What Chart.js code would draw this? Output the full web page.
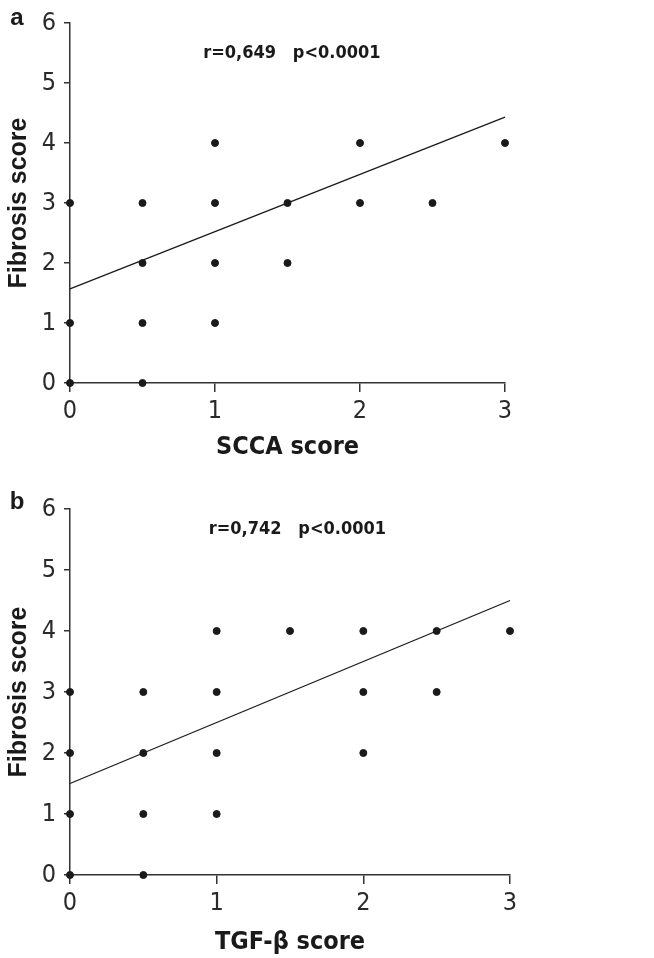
<!DOCTYPE html>
<html>
<head>
<meta charset="utf-8">
<script src="https://cdn.jsdelivr.net/npm/chart.js@4.4.1/dist/chart.umd.min.js"></script>
<style>
  body { margin: 0; background: #fff; }
  .panel { position: absolute; left: 0; }
  #wrapA { top: 0; }
  #wrapB { top: 470px; }
</style>
</head>
<body>
<div class="panel" id="wrapA"><canvas id="chartA" width="654" height="470"></canvas></div>
<div class="panel" id="wrapB"><canvas id="chartB" width="654" height="488"></canvas></div>
<script>
// panel a: SCCA score vs fibrosis score
const sccaX = [0, 0, 0, 0.5, 0.5, 0.5, 0.5, 1, 1, 1, 1, 1.5, 1.5, 2, 2, 2.5, 3];
const sccaY = [0, 1, 3, 0, 1, 2, 3, 1, 2, 3, 4, 2, 3, 3, 4, 3, 4];
const sccaFit = [1.57, 4.43];   // regression line at x=0 and x=3

// panel b: TGF-beta score vs fibrosis score
const tgfX = [0, 0, 0, 0, 0.5, 0.5, 0.5, 0.5, 1, 1, 1, 1, 1.5, 2, 2, 2, 2.5, 2.5, 3];
const tgfY = [0, 1, 2, 3, 0, 1, 2, 3, 1, 2, 3, 4, 4, 2, 3, 4, 3, 4, 4];
const tgfFit = [1.5, 4.5];

const fitX = [0, 3];

const FONT = "'Liberation Sans', Arial, sans-serif";
const NARROW = "'Liberation Sans Narrow', 'DejaVu Sans Condensed', Arial, sans-serif";
const INK = '#1a1a1a';

// draws the panel letter and the r / p note
const notesPlugin = {
    id: 'notes',
    afterDraw(chart, args, opts) {
        const ctx = chart.ctx;
        ctx.save();
        ctx.fillStyle = INK;
        ctx.textBaseline = 'middle';
        ctx.textAlign = 'center';
        ctx.font = 'bold 24px ' + FONT;
        ctx.fillText(opts.letter, opts.letterX, opts.letterY);
        ctx.font = 'bold 18px ' + NARROW;
        const x = chart.scales.x.getPixelForValue(opts.noteAt[0]);
        const y = chart.scales.y.getPixelForValue(opts.noteAt[1]);
        ctx.fillText(opts.note, x, y);
        ctx.restore();
    }
};

function makeChart(id, xs, ys, fit, xTitle, pad, notes) {
    const points = xs.map((x, i) => ({ x: x, y: ys[i] }));
    const line = fitX.map((x, i) => ({ x: x, y: fit[i] }));
    return new Chart(document.getElementById(id), {
        type: 'scatter',
        data: {
            datasets: [
                {
                    data: points,
                    backgroundColor: INK,
                    borderColor: INK,
                    pointRadius: 3.5,
                    pointHoverRadius: 3.5,
                    clip: false
                },
                {
                    type: 'line',
                    data: line,
                    borderColor: INK,
                    borderWidth: 1.3,
                    pointRadius: 0,
                    fill: false,
                    clip: false
                }
            ]
        },
        options: {
            responsive: false,
            animation: false,
            layout: { padding: pad },
            plugins: {
                legend: { display: false },
                tooltip: { enabled: false },
                notes: notes
            },
            scales: {
                x: {
                    type: 'linear',
                    min: 0,
                    max: 3,
                    afterFit: s => { s.height = pad.xh; },
                    ticks: { stepSize: 1, color: '#2a2a2a', padding: 4, font: { family: NARROW, size: 25 } },
                    grid: { drawOnChartArea: false, drawTicks: true, tickLength: 9, color: '#333', lineWidth: 1.5 },
                    border: { display: true, color: '#333', width: 1.5 },
                    title: { display: true, text: xTitle, color: INK, padding: { top: 0, bottom: 0 },
                             font: { family: NARROW, size: 25, weight: 'bold' } }
                },
                y: {
                    min: 0,
                    max: 6,
                    afterFit: s => { s.width = 70; },
                    ticks: { stepSize: 1, color: '#2a2a2a', padding: 8, font: { family: NARROW, size: 25 } },
                    grid: { drawOnChartArea: false, drawTicks: true, tickLength: 6, color: '#333', lineWidth: 1.5 },
                    border: { display: true, color: '#333', width: 1.5 },
                    title: { display: true, text: 'Fibrosis score', color: INK, padding: { top: 4, bottom: 0 },
                             font: { family: FONT, size: 25, weight: 'bold' } }
                }
            }
        },
        plugins: [notesPlugin]
    });
}

makeChart('chartA', sccaX, sccaY, sccaFit, 'SCCA score',
    { top: 20, right: 149, bottom: 8, left: 0, xh: 79 },
    { letter: 'a', letterX: 17, letterY: 18, note: 'r=0,649   p<0.0001', noteAt: [1.53, 5.5] });

makeChart('chartB', tgfX, tgfY, tgfFit, 'TGF-\u03b2 score',
    { top: 39, right: 144, bottom: 1, left: 0, xh: 82 },
    { letter: 'b', letterX: 17, letterY: 32, note: 'r=0,742   p<0.0001', noteAt: [1.55, 5.66] });
</script>
</body>
</html>
